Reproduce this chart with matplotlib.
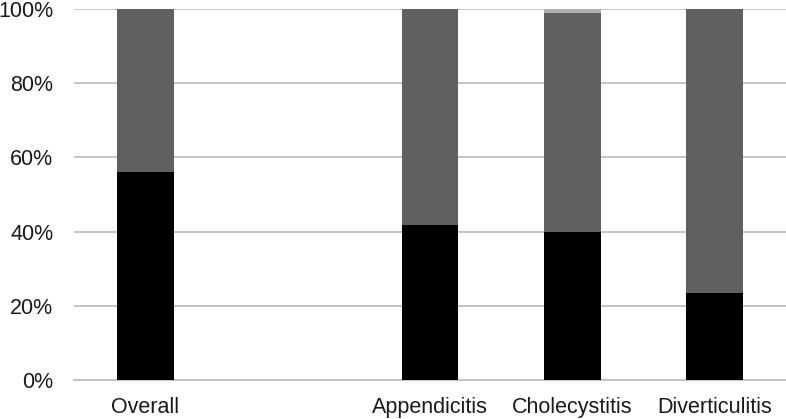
import matplotlib.pyplot as plt
import numpy as np

categories = ['Overall', '', 'Appendicitis', 'Cholecystitis', 'Diverticulitis']
# percent shares per bar (bottom -> top), blank slot has no bar
black_share = [56.1, 0, 41.8, 39.8, 23.5]
dark_share = [43.9, 0, 58.2, 59.0, 76.5]
light_share = [0, 0, 0, 1.2, 0]
yticks = [0, 20, 40, 60, 80, 100]

plt.rcParams['font.family'] = ['Liberation Sans', 'DejaVu Sans']

fig = plt.figure(figsize=(7.86, 4.19), dpi=100)
ax = fig.add_axes([74 / 786, 1 - 380 / 419, 712 / 786, 371 / 419])

x = np.arange(len(categories))
black = np.array(black_share)
dark = np.array(dark_share)
light = np.array(light_share)

ax.bar(x, black, width=0.4, color='#000000', zorder=3)
ax.bar(x, dark, width=0.4, bottom=black, color='#606060', zorder=3)
ax.bar(x, light, width=0.4, bottom=black + dark, color='#b0b0b0', zorder=3)

ax.set_xlim(-0.5, len(categories) - 0.5)
ax.set_ylim(0, 100)
ax.set_yticks(yticks)
ax.set_yticklabels([str(t) + '%' for t in yticks], fontsize=15.5, color='#1a1a1a')
ax.set_xticks(x)
ax.set_xticklabels(categories, fontsize=15.5, color='#1a1a1a')
ax.tick_params(axis='both', length=0)
ax.tick_params(axis='y', pad=15)
ax.tick_params(axis='x', pad=12)

ax.grid(axis='y', color='#bfbfbf', linewidth=1.3, zorder=0)
for s in ['top', 'right', 'left']:
    ax.spines[s].set_visible(False)
ax.spines['bottom'].set_color('#bfbfbf')
ax.spines['bottom'].set_linewidth(1.3)

fig.savefig('out.png', dpi=100)
